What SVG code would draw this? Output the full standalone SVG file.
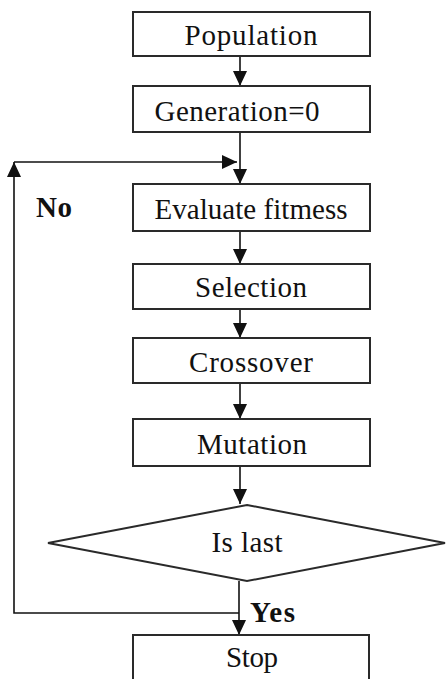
<svg xmlns="http://www.w3.org/2000/svg" width="446" height="679" viewBox="0 0 446 679">
  <style>
    .box { fill: #ffffff; stroke: #2a2a2a; stroke-width: 2; }
    .lbl { font-family: "Liberation Serif", "DejaVu Serif", serif; font-size: 29px; fill: #111; text-anchor: middle; }
    .bold { font-weight: bold; text-anchor: start; }
    .conn { fill: none; stroke: #111; stroke-width: 1.6; }
  </style>
  <defs>
    <marker id="arr" markerUnits="userSpaceOnUse" markerWidth="16" markerHeight="16" viewBox="0 0 16 16" refX="15" refY="8" orient="auto">
      <path d="M0,1 L15,8 L0,15 Z" fill="#111"/>
    </marker>
  </defs>
  <rect width="446" height="679" fill="#ffffff"/>

  <g id="connectors">
    <path class="conn" d="M240,56 V86" marker-end="url(#arr)"/>
    <path class="conn" d="M240,132 V184" marker-end="url(#arr)"/>
    <path class="conn" d="M239,613 H14 V162" marker-end="url(#arr)"/>
    <path class="conn" d="M14,162 H237" marker-end="url(#arr)"/>
    <path class="conn" d="M240,231 V264" marker-end="url(#arr)"/>
    <path class="conn" d="M240,309 V338" marker-end="url(#arr)"/>
    <path class="conn" d="M240,383 V419" marker-end="url(#arr)"/>
    <path class="conn" d="M240,466 V504" marker-end="url(#arr)"/>
    <path class="conn" d="M239,581 V635" marker-end="url(#arr)"/>
    <text class="lbl bold" x="36" y="217" textLength="36">No</text>
    <text class="lbl bold" x="250" y="622" textLength="45">Yes</text>
  </g>

  <g id="population">
    <rect class="box" x="133" y="12" width="237" height="44"/>
    <text class="lbl" x="251" y="45" textLength="133">Population</text>
  </g>
  <g id="generation">
    <rect class="box" x="133" y="86" width="237" height="46"/>
    <text class="lbl" x="237" y="121" textLength="165">Generation=0</text>
  </g>
  <g id="evaluate">
    <rect class="box" x="133" y="184" width="237" height="47"/>
    <text class="lbl" x="251" y="219" textLength="193">Evaluate fitmess</text>
  </g>
  <g id="selection">
    <rect class="box" x="133" y="264" width="237" height="45"/>
    <text class="lbl" x="251" y="297" textLength="112">Selection</text>
  </g>
  <g id="crossover">
    <rect class="box" x="133" y="338" width="237" height="45"/>
    <text class="lbl" x="251" y="372" textLength="124">Crossover</text>
  </g>
  <g id="mutation">
    <rect class="box" x="133" y="419" width="237" height="47"/>
    <text class="lbl" x="252" y="454" textLength="110">Mutation</text>
  </g>
  <g id="islast">
    <polygon class="box" points="247,505 445,543 247,581 48,543"/>
    <text class="lbl" x="247" y="552" textLength="71">Is last</text>
  </g>
  <g id="stop">
    <rect class="box" x="133" y="635" width="236" height="60"/>
    <text class="lbl" x="252" y="667" textLength="52">Stop</text>
  </g>
</svg>
